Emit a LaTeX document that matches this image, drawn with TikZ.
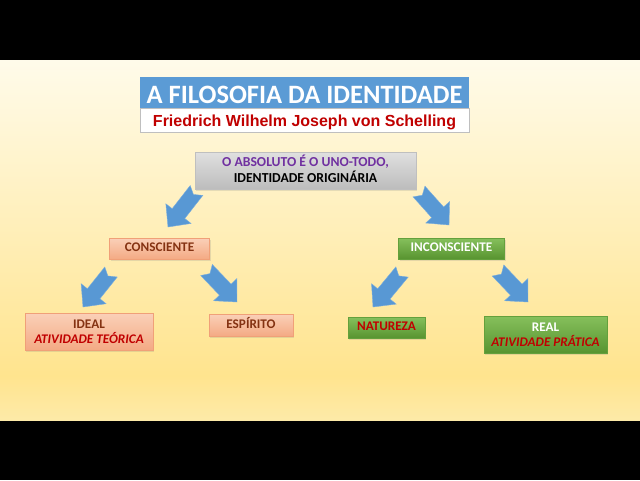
\documentclass[tikz,border=0pt]{standalone}
\usepackage{fontspec}
\setmainfont{Carlito}
\newfontfamily\arialfont{Liberation Sans}
\usetikzlibrary{calc,shadows}
\definecolor{bgtop}{RGB}{255,251,234}
\definecolor{bgmid}{RGB}{255,228,142}
\definecolor{bgbot}{RGB}{253,234,168}
\definecolor{titleblue}{RGB}{91,155,213}
\definecolor{darkred}{RGB}{192,0,0}
\definecolor{purp}{RGB}{112,48,160}
\definecolor{salmontop}{RGB}{250,208,184}
\definecolor{salmonbot}{RGB}{244,170,132}
\definecolor{salmonline}{RGB}{240,160,120}
\definecolor{brownred}{RGB}{132,50,18}
\definecolor{greentop}{RGB}{134,192,92}
\definecolor{greenbot}{RGB}{88,148,48}
\definecolor{greenline}{RGB}{100,160,60}
\definecolor{graytop}{RGB}{224,224,224}
\definecolor{graybot}{RGB}{188,188,188}
\definecolor{arrowblue}{RGB}{88,152,212}
\newcommand{\subtxt}[1]{{\bfseries\itshape\color{darkred}#1}}
\newcommand{\blockarr}[3]{%
  \coordinate (#3b) at ($(#2)!17pt!(#1)$);
  \coordinate (#3n) at ($(#1)!5pt!(#2)$);
  \filldraw[blk] ($(#1)!8pt!90:(#2)$) -- (#3n) -- ($(#1)!8pt!-90:(#2)$)
    -- ($(#3b)!8pt!-90:(#2)$) -- ($(#3b)!16pt!-90:(#2)$) -- (#2)
    -- ($(#3b)!16pt!90:(#2)$) -- ($(#3b)!8pt!90:(#2)$) -- cycle;}
\begin{document}
\begin{tikzpicture}[x=1pt,y=-1pt,
  shad/.style={drop shadow={shadow xshift=1pt,shadow yshift=-1.5pt,opacity=0.2}},
  sbox/.style={shad,draw=salmonline,line width=0.5pt,top color=salmontop,bottom color=salmonbot,
    text=brownred,font=\bfseries\fontsize{13.2}{15.5}\selectfont,align=center,inner sep=0pt},
  gbox/.style={shad,draw=greenline,line width=0.5pt,top color=greentop,bottom color=greenbot,
    text=white,font=\bfseries\fontsize{13.2}{15.5}\selectfont,align=center,inner sep=0pt},
  oneline/.style={text height=8pt,text depth=1.5pt},
  twoline/.style={text height=24pt,text depth=0pt},
  blk/.style={fill=arrowblue,draw=arrowblue!80!white,line width=0.4pt,line join=miter}]
\useasboundingbox (0,0) rectangle (640,480);
\fill[black] (0,0) rectangle (640,60);
\fill[black] (0,420) rectangle (640,480);
\shade[top color=bgtop,bottom color=bgmid] (0,60) rectangle (640,376);
\shade[top color=bgmid,bottom color=bgbot] (0,375.5) rectangle (640,420);

\node[fill=titleblue,minimum width=329pt,minimum height=31pt,inner sep=0pt,text=white,
  font=\bfseries\fontsize{26.5}{30}\selectfont,text height=22pt,text depth=0pt]
  (title) at (304.5,92.5) {A FILOSOFIA DA IDENTIDADE};
\node[fill=white,draw=black!25,line width=0.5pt,minimum width=329pt,minimum height=24pt,inner sep=0pt,
  text=darkred,font=\arialfont\bfseries\fontsize{16}{18}\selectfont,text height=12pt,text depth=0pt]
  (sub) at (304.5,120) {Friedrich Wilhelm Joseph von Schelling};

\node[shad,draw=black!25,line width=0.5pt,top color=graytop,bottom color=graybot,minimum width=221pt,
  minimum height=37pt,inner sep=0pt,align=center,font=\bfseries\fontsize{13.7}{16}\selectfont,
  text height=23pt,text depth=0pt]
  (abs) at (305.5,170.5) {\textcolor{purp}{O ABSOLUTO É O UNO-TODO,}\\IDENTIDADE ORIGINÁRIA};

\node[sbox,oneline,minimum width=100pt,minimum height=21pt] (cons) at (159.5,248.5) {CONSCIENTE};
\node[gbox,oneline,minimum width=106pt,minimum height=21pt] (incons) at (451.5,248.5) {INCONSCIENTE};

\node[sbox,twoline,minimum width=128pt,minimum height=37pt] (ideal) at (89,331.5)
  {IDEAL\\\subtxt{ATIVIDADE TEÓRICA}};
\node[sbox,oneline,minimum width=84pt,minimum height=22pt] (esp) at (251,325) {ESPÍRITO};
\node[gbox,oneline,minimum width=77pt,minimum height=21pt,text=darkred] (nat) at (386.5,327.5) {NATUREZA};
\node[gbox,twoline,minimum width=123pt,minimum height=37pt] (real) at (545.5,334.5)
  {REAL\\\subtxt{ATIVIDADE PRÁTICA}};

\coordinate (t1) at (196.5,190.5); \coordinate (h1) at (168,227);
\coordinate (t2) at (419,191.5);   \coordinate (h2) at (449,225);
\coordinate (t3) at (111,272);     \coordinate (h3) at (83,307);
\coordinate (t4) at (206.5,270);   \coordinate (h4) at (237,302);
\coordinate (t5) at (402,272);     \coordinate (h5) at (373,307);
\coordinate (t6) at (498,270.5);   \coordinate (h6) at (528,302);
\blockarr{t1}{h1}{a1}
\blockarr{t2}{h2}{a2}
\blockarr{t3}{h3}{a3}
\blockarr{t4}{h4}{a4}
\blockarr{t5}{h5}{a5}
\blockarr{t6}{h6}{a6}
\end{tikzpicture}
\end{document}
